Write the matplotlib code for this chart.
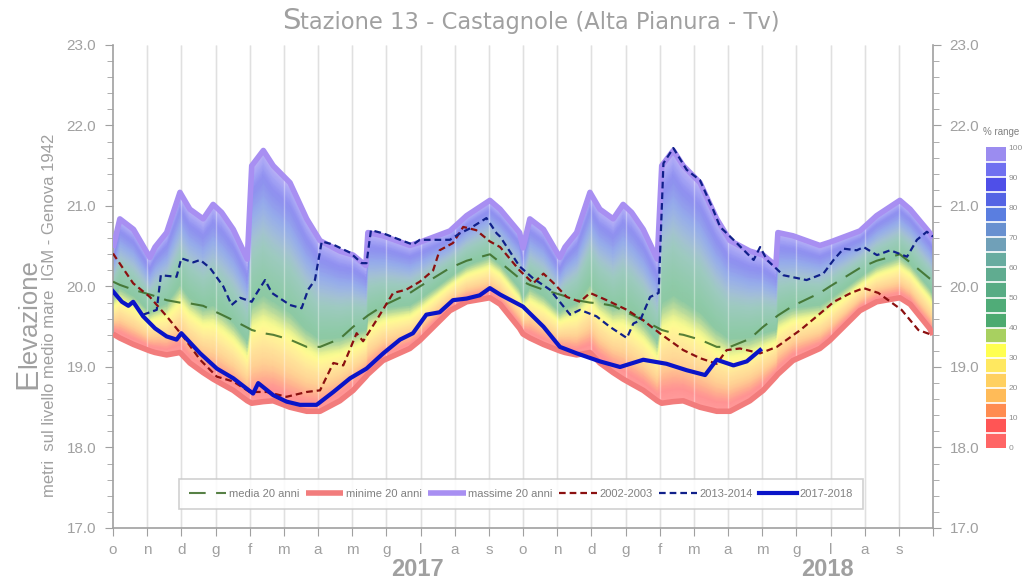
import numpy as np
import matplotlib
matplotlib.use("Agg")
import matplotlib.pyplot as plt
from matplotlib.colors import ListedColormap, BoundaryNorm, LinearSegmentedColormap, to_rgb
from matplotlib.cm import ScalarMappable
from matplotlib.ticker import FixedLocator, MultipleLocator

plt.rcParams['font.family'] = ['Liberation Sans', 'DejaVu Sans']

# x in months from 1 Oct 2016 (0) to 1 Oct 2018 (24)
months = ['o', 'n', 'd', 'g', 'f', 'm', 'a', 'm', 'g', 'l', 'a', 's']

# 20-year statistics for one hydrological year (months from 1 Oct)
clim_x = [0, 0.2, 0.6, 1.08, 1.23, 1.57, 1.96, 2.25, 2.64, 2.93, 3.18, 3.52, 3.93, 4.06,
          4.40, 4.69, 5.18, 5.67, 6.06, 6.64, 7.03, 7.40, 7.46, 7.9, 8.69, 8.98, 9.86,
          10.35, 11.03, 11.33, 11.9]
clim_max = [20.48, 20.84, 20.71, 20.36, 20.49, 20.67, 21.17, 20.96, 20.84, 21.02, 20.92,
            20.71, 20.34, 21.50, 21.69, 21.50, 21.29, 20.84, 20.57, 20.44, 20.39, 20.26,
            20.67, 20.63, 20.51, 20.55, 20.69, 20.88, 21.07, 20.96, 20.67]
clim_min = [19.41, 19.36, 19.28, 19.20, 19.18, 19.15, 19.18, 19.05, 18.93, 18.85, 18.79,
            18.71, 18.58, 18.55, 18.57, 18.58, 18.50, 18.45, 18.45, 18.58, 18.71, 18.88,
            18.91, 19.08, 19.23, 19.33, 19.70, 19.81, 19.86, 19.78, 19.48]
clim_mean = [20.06, 20.02, 19.96, 19.90, 19.88, 19.83, 19.80, 19.79, 19.76, 19.70, 19.65,
             19.58, 19.49, 19.46, 19.42, 19.40, 19.34, 19.25, 19.25, 19.35, 19.50, 19.62,
             19.64, 19.76, 19.92, 20.00, 20.23, 20.32, 20.40, 20.30, 20.10]
end_max, end_min, end_mean = 20.60, 19.40, 20.08

x_0203 = [0, 0.59, 1.08, 1.57, 2.05, 2.55, 3.04, 3.52, 4.0, 4.5, 5.08, 5.67, 6.06, 6.45,
          6.74, 7.13, 7.32, 7.71, 8.2, 8.58, 8.98, 9.37, 9.56, 9.95, 10.25, 10.63, 11.03,
          11.33, 11.9, 12.3, 12.6, 12.9, 13.28, 13.67, 13.96, 14.45, 15.04, 15.52, 16.0,
          16.69, 17.18, 17.67, 17.96, 18.35, 18.94, 19.43, 20.12, 20.6, 21.1, 21.6, 21.97,
          22.4, 23.08, 23.57, 23.96]
y_0203 = [20.41, 20.04, 19.87, 19.63, 19.38, 19.09, 18.88, 18.82, 18.69, 18.69, 18.63,
          18.69, 18.71, 19.05, 19.02, 19.42, 19.32, 19.58, 19.92, 19.96, 20.06, 20.20,
          20.45, 20.54, 20.74, 20.70, 20.56, 20.49, 20.20, 20.04, 20.16, 20.04, 19.87,
          19.81, 19.92, 19.83, 19.71, 19.58, 19.42, 19.21, 19.11, 19.04, 19.21, 19.23,
          19.17, 19.25, 19.46, 19.63, 19.81, 19.92, 19.98, 19.92, 19.71, 19.46, 19.40]

x_1314 = [0.88, 1.28, 1.40, 1.86, 2.0, 2.35, 2.55, 2.84, 3.23, 3.47, 3.72, 4.06, 4.21,
          4.45, 4.65, 5.18, 5.52, 5.71, 5.91, 6.11, 6.45, 6.94, 7.28, 7.42, 7.55, 7.91,
          8.4, 8.78, 8.98, 9.86, 10.15, 10.44, 10.93, 11.23, 11.33, 11.9, 12.3, 12.79,
          13.38, 13.67, 14.15, 14.54, 15.04, 15.23, 15.43, 15.72, 15.97, 16.11, 16.4,
          16.79, 17.18, 17.57, 17.77, 18.16, 18.75, 18.94, 19.14, 19.62, 20.3, 20.79,
          21.09, 21.38, 21.77, 21.97, 22.36, 22.75, 23.24, 23.53, 23.82, 24.0]
y_1314 = [19.65, 19.71, 20.14, 20.12, 20.35, 20.30, 20.33, 20.23, 20.0, 19.77, 19.86,
          19.81, 19.92, 20.08, 19.92, 19.77, 19.73, 19.96, 20.08, 20.56, 20.52, 20.42,
          20.29, 20.29, 20.70, 20.66, 20.58, 20.52, 20.58, 20.58, 20.66, 20.72, 20.85,
          20.66, 20.62, 20.25, 20.10, 19.96, 19.65, 19.71, 19.63, 19.50, 19.36, 19.54,
          19.58, 19.87, 19.92, 21.53, 21.72, 21.45, 21.32, 20.95, 20.74, 20.58, 20.33,
          20.49, 20.33, 20.14, 20.08, 20.16, 20.33, 20.47, 20.45, 20.49, 20.39, 20.45,
          20.37, 20.58, 20.68, 20.62]

x_1718 = [0, 0.26, 0.45, 0.59, 0.88, 1.23, 1.57, 1.86, 2.0, 2.55, 3.04, 3.52, 4.1, 4.25,
          4.69, 5.08, 5.47, 5.96, 6.45, 6.94, 7.42, 7.91, 8.4, 8.78, 9.17, 9.56, 9.95,
          10.35, 10.73, 11.03, 11.33, 12.0, 12.6, 13.08, 13.57, 14.25, 14.84, 15.52, 16.2,
          16.79, 17.33, 17.67, 18.16, 18.55, 18.94]
y_1718 = [19.94, 19.81, 19.76, 19.81, 19.63, 19.48, 19.38, 19.34, 19.42, 19.17, 18.98,
          18.86, 18.67, 18.80, 18.65, 18.57, 18.53, 18.53, 18.69, 18.86, 18.98, 19.17,
          19.34, 19.42, 19.65, 19.68, 19.83, 19.85, 19.89, 19.98, 19.90, 19.75, 19.50,
          19.25, 19.17, 19.07, 19.00, 19.09, 19.04, 18.96, 18.90, 19.09, 19.02, 19.07,
          19.21]

# % range colour classes (0-5, 5-10, ... 95-100)
range_colors = ['#ff6565', '#ff5555', '#ff8c50', '#ffbb58', '#ffd060', '#ffe860',
                '#ffff50', '#a8d060', '#4caa70', '#50ac78', '#58ac84', '#60ac90',
                '#68aca0', '#70a0b8', '#6890d0', '#5a7ee0', '#5464e4', '#4f4fe8',
                '#7070f0', '#9b8cf0']

# two years of climatology
band_x = np.concatenate([clim_x, np.array(clim_x) + 12, [24]])
band_max = np.concatenate([clim_max, clim_max, [end_max]])
band_min = np.concatenate([clim_min, clim_min, [end_min]])
band_mean = np.concatenate([clim_mean, clim_mean, [end_mean]])

grey = '#a0a0a0'
fig = plt.figure(figsize=(10.23, 5.86), dpi=100)
ax = fig.add_axes([113 / 1023, 1 - 528 / 586, 820 / 1023, 483 / 586])

# gradient band between min and max
light = [tuple(0.64 * np.array(to_rgb(c)) + 0.36) for c in range_colors]
band_cmap = LinearSegmentedColormap.from_list('band', light)
nlev = 40
frac = np.linspace(0, 1, nlev + 1)[:, None]
X = np.repeat(band_x[None, :], nlev + 1, axis=0)
Y = band_min[None, :] + (band_max - band_min)[None, :] * frac
C = np.repeat(frac, len(band_x), axis=1)
ax.pcolormesh(X, Y, C, cmap=band_cmap, vmin=0, vmax=1, shading='gouraud', zorder=2)

# month grid
ax.vlines(np.arange(1, 24), 17, 23, color='#d0d0d0', lw=1, zorder=1)
ax.vlines(np.arange(1, 24), 17, 23, color='white', lw=1, alpha=0.35, zorder=2.5)

ax.plot(band_x, band_mean, color='#3a6b25', lw=1.5, dashes=(8, 5), alpha=0.85, zorder=4,
        label='media 20 anni')
ax.plot(band_x, band_min, color='#f27c7c', lw=4, zorder=3, label='minime 20 anni',
        solid_capstyle='butt')
ax.plot(band_x, band_max, color='#a88ff2', lw=4, zorder=3, label='massime 20 anni',
        solid_capstyle='butt')
ax.plot(x_0203, y_0203, color='#8b1010', lw=1.6, dashes=(3, 1.8), zorder=5,
        label='2002-2003')
ax.plot(x_1314, y_1314, color='#10208a', lw=1.6, dashes=(3, 1.8), zorder=5,
        label='2013-2014')
ax.plot(x_1718, y_1718, color='#0a14c8', lw=3, zorder=6, label='2017-2018')

ax.set_xlim(0, 24)
ax.set_ylim(17, 23)
for s in ['left', 'right', 'bottom']:
    ax.spines[s].set_color(grey)
    ax.spines[s].set_linewidth(1.2)
ax.spines['top'].set_visible(False)

ax.set_xticks(range(25))
ax.set_xticklabels(months * 2 + [''])
ax.xaxis.set_minor_locator(FixedLocator([3, 15]))
ax.tick_params(axis='x', which='major', length=6, color=grey, labelcolor=grey,
               labelsize=11, pad=5)
ax.tick_params(axis='x', which='minor', length=12, color=grey)

ax.yaxis.set_major_locator(MultipleLocator(1))
ax.yaxis.set_minor_locator(MultipleLocator(0.2))
ax.yaxis.set_major_formatter(matplotlib.ticker.FormatStrFormatter('%.1f'))
ax.tick_params(axis='y', which='both', left=True, right=True, labelleft=True,
               labelright=True, color=grey, labelcolor=grey, labelsize=11, pad=6)
ax.tick_params(axis='y', which='major', length=6)
ax.tick_params(axis='y', which='minor', length=4)

# year labels
for xm, yr in [(8.9, '2017'), (20.9, '2018')]:
    ax.text(xm, -0.085, yr, transform=ax.get_xaxis_transform(), ha='center', va='center',
            fontsize=17, fontweight='bold', color=grey)

leg = ax.legend(loc='lower center', bbox_to_anchor=(0.497, 0.028), ncol=6, fontsize=8,
                frameon=True, fancybox=False, edgecolor='#c8c8c8', framealpha=0.85,
                handlelength=3.4, handletextpad=0.2, columnspacing=0.6,
                borderpad=0.9, labelcolor='#808080')
leg.get_frame().set_linewidth(1.2)
leg.set_zorder(10)

# colour bar
cax = fig.add_axes([986 / 1023, 1 - 448 / 586, 20 / 1023, 301 / 586])
bounds = np.arange(0, 105, 5)
norm = BoundaryNorm(bounds, len(range_colors))
cb = fig.colorbar(ScalarMappable(norm=norm, cmap=ListedColormap(range_colors)), cax=cax,
                  boundaries=bounds, ticks=np.arange(0, 110, 10), drawedges=True)
cb.outline.set_visible(False)
cb.dividers.set_color('white')
cb.dividers.set_linewidth(1.2)
cb.minorticks_off()
cax.yaxis.set_tick_params(which='both', length=0, labelsize=6, labelcolor='#909090', pad=2)
fig.text(1001 / 1023, 1 - 132 / 586, '% range', ha='center', va='center', fontsize=7,
         color='#808080')

# title with enlarged initial
renderer = fig.canvas.get_renderer()
t1 = fig.text(282 / 1023, 1 - 29 / 586, 'S', fontsize=21, color=grey,
              family='DejaVu Sans', va='baseline')
w1 = t1.get_window_extent(renderer).width
fig.text(282 / 1023 + w1 / 1023, 1 - 29 / 586, 'tazione 13 - Castagnole (Alta Pianura - Tv)',
         fontsize=16.3, color=grey, family='DejaVu Sans', va='baseline')

# y label with enlarged initial
e1 = fig.text(36 / 1023, 1 - 389 / 586, 'E', fontsize=23, color=grey, rotation=90,
              rotation_mode='anchor', ha='left', va='baseline')
h1 = e1.get_window_extent(renderer).height
fig.text(36 / 1023, 1 - 389 / 586 + h1 / 586, 'levazione', fontsize=18.5, color=grey,
         rotation=90, rotation_mode='anchor', ha='left', va='baseline')
fig.text(50 / 1023, 1 - 315 / 586, 'metri  sul livello medio mare  IGM - Genova 1942',
         fontsize=12, color=grey, rotation=90, ha='center', va='center')

fig.savefig('out.png', dpi=100)
